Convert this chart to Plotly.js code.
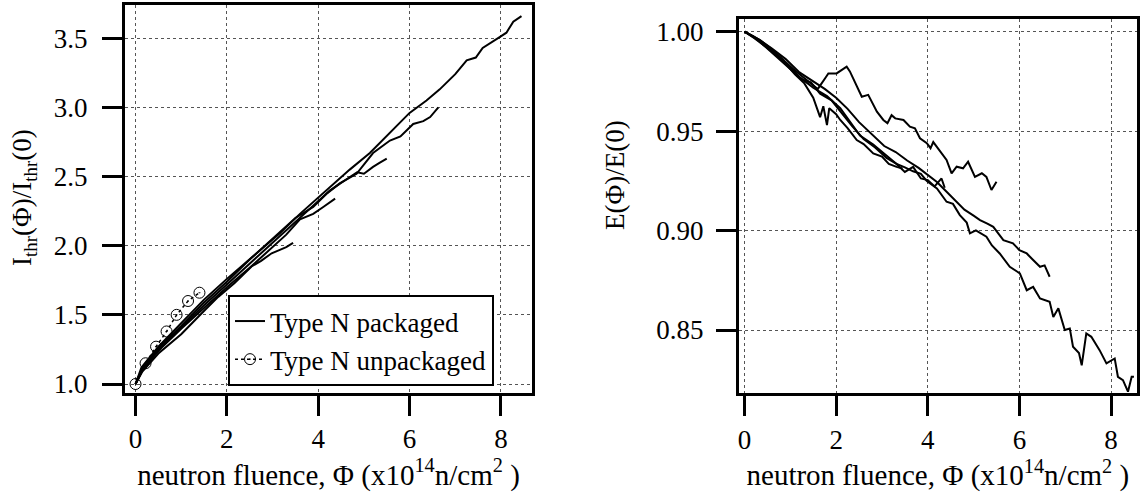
<!DOCTYPE html>
<html>
<head>
<meta charset="utf-8">
<script src="https://cdn.plot.ly/plotly-3.0.1.min.js"></script>
<style>html,body{margin:0;padding:0;background:#fff;}#chart{width:1148px;height:497px;}#status{position:absolute;left:0;top:0;width:1px;height:1px;overflow:hidden;visibility:hidden;}</style>
</head>
<body>
<div id="chart"></div>
<div id="status">start</div>
<script>
const errs = [];
window.addEventListener('error', function (e) { errs.push('ERR ' + e.message); });

// ---- tick values / labels ----
const xTicks = [0, 2, 4, 6, 8];
const xTickLabels = ['0', '2', '4', '6', '8'];
const leftYTicks = [1.0, 1.5, 2.0, 2.5, 3.0, 3.5];
const leftYTickLabels = ['1.0', '1.5', '2.0', '2.5', '3.0', '3.5'];
const rightYTicks = [0.85, 0.90, 0.95, 1.00];
const rightYTickLabels = ['0.85', '0.90', '0.95', '1.00'];

// ---- Left panel: I_thr(Φ)/I_thr(0) ----
const pkgA_x = [0, 0.13, 0.5, 1.0, 1.5, 2.0, 2.6, 3.16, 3.6, 4.11, 4.69, 5.13, 5.57, 6.0, 6.37, 6.66, 7.0, 7.25, 7.45, 7.6, 7.98, 8.12, 8.27, 8.45];
const pkgA_y = [1.0, 1.12, 1.27, 1.44, 1.61, 1.76, 1.93, 2.09, 2.23, 2.38, 2.55, 2.67, 2.82, 2.96, 3.05, 3.13, 3.24, 3.34, 3.36, 3.43, 3.51, 3.54, 3.62, 3.66];
const pkgB_x = [0, 0.15, 0.5, 1.0, 1.5, 2.0, 2.5, 3.0, 3.5, 3.89, 4.2, 4.47, 4.84, 5.2, 5.57, 5.8, 6.08, 6.3, 6.45, 6.63];
const pkgB_y = [1.0, 1.11, 1.26, 1.42, 1.59, 1.74, 1.9, 2.05, 2.2, 2.28, 2.38, 2.45, 2.52, 2.67, 2.76, 2.79, 2.88, 2.9, 2.93, 3.0];
const pkgC_x = [0, 0.15, 0.5, 1.0, 1.5, 2.0, 2.5, 3.0, 3.5, 4.03, 4.26, 4.62, 4.85, 5.0, 5.2, 5.35, 5.5];
const pkgC_y = [1.0, 1.1, 1.25, 1.41, 1.57, 1.72, 1.87, 2.02, 2.17, 2.33, 2.40, 2.48, 2.53, 2.52, 2.57, 2.6, 2.63];
const pkgD_x = [0, 0.15, 0.5, 1.0, 1.5, 2.0, 2.5, 3.0, 3.3, 3.6, 3.89, 4.11, 4.25, 4.37];
const pkgD_y = [1.0, 1.1, 1.24, 1.4, 1.55, 1.7, 1.84, 1.99, 2.08, 2.19, 2.23, 2.28, 2.31, 2.34];
const pkgE_x = [0, 0.15, 0.5, 1.0, 1.52, 1.81, 2.17, 2.54, 2.75, 2.98, 3.16, 3.3, 3.45];
const pkgE_y = [1.0, 1.09, 1.22, 1.36, 1.535, 1.63, 1.73, 1.85, 1.89, 1.945, 1.97, 1.99, 2.02];
const unpkg_x = [0, 0.22, 0.45, 0.68, 0.9, 1.15, 1.4];
const unpkg_y = [1.0, 1.15, 1.27, 1.38, 1.5, 1.6, 1.66];

// ---- Right panel: E(Φ)/E(0) ----
const eA_x = [0, 0.34, 0.63, 0.92, 1.21, 1.5, 1.8, 2.09, 2.3, 2.52, 2.81, 3.1, 3.32, 3.5, 3.68, 3.85, 3.98, 4.2, 4.41, 4.55, 4.7, 4.85, 4.92, 5.05, 5.28, 5.4, 5.57, 5.79, 6.01, 6.16, 6.3, 6.45, 6.66, 6.74, 6.85, 6.99, 7.1, 7.17, 7.3, 7.36, 7.46, 7.57, 7.75, 7.9, 8.08, 8.15, 8.26, 8.37, 8.45, 8.5];
const eA_y = [1.0, 0.9958, 0.9905, 0.9838, 0.977, 0.9718, 0.9676, 0.9615, 0.9545, 0.9478, 0.9432, 0.9376, 0.9335, 0.9318, 0.9298, 0.9285, 0.9249, 0.9212, 0.9145, 0.9134, 0.9078, 0.904, 0.8986, 0.9001, 0.8969, 0.8925, 0.8885, 0.8818, 0.8785, 0.870, 0.8717, 0.8659, 0.8642, 0.8566, 0.8609, 0.85, 0.8508, 0.8416, 0.8384, 0.8323, 0.8483, 0.8466, 0.8399, 0.8332, 0.8357, 0.8265, 0.8248, 0.819, 0.8265, 0.8265];
const eB_x = [0, 0.3, 0.6, 0.9, 1.2, 1.5, 1.75, 2.0, 2.25, 2.5, 2.8, 3.05, 3.3, 3.55, 3.8, 4.0, 4.2, 4.4, 4.6, 4.8, 5.0, 5.14, 5.3, 5.43, 5.65, 5.86, 6.0, 6.16, 6.3, 6.45, 6.55, 6.66];
const eB_y = [1.0, 0.9962, 0.9915, 0.9862, 0.9795, 0.9748, 0.9712, 0.9668, 0.9612, 0.9545, 0.9478, 0.9425, 0.9395, 0.9352, 0.9315, 0.9278, 0.9244, 0.9198, 0.9152, 0.9105, 0.9075, 0.9053, 0.9035, 0.9019, 0.8952, 0.8936, 0.8902, 0.8885, 0.8852, 0.8818, 0.8825, 0.8768];
const eC_x = [0, 0.25, 0.5, 0.8, 1.1, 1.4, 1.6, 1.76, 1.83, 2.01, 2.23, 2.3, 2.49, 2.56, 2.7, 2.78, 2.89, 3.03, 3.12, 3.21, 3.29, 3.47, 3.61, 3.72, 3.83, 3.98, 4.06, 4.12, 4.41, 4.52, 4.63, 4.77, 4.88, 5.03, 5.18, 5.28, 5.39, 5.5];
const eC_y = [1.0, 0.9965, 0.9925, 0.9868, 0.9805, 0.9752, 0.9712, 0.9766, 0.979, 0.979, 0.9824, 0.980, 0.9707, 0.9673, 0.9682, 0.9648, 0.9598, 0.9556, 0.954, 0.958, 0.9564, 0.9556, 0.9522, 0.9514, 0.9464, 0.9439, 0.9414, 0.9445, 0.9355, 0.9288, 0.9321, 0.9313, 0.9346, 0.927, 0.9288, 0.927, 0.9204, 0.9245];
const eD_x = [0, 0.2, 0.45, 0.7, 1.0, 1.25, 1.45, 1.65, 1.9, 2.1, 2.35, 2.6, 2.85, 3.1, 3.3, 3.5, 3.68, 3.85, 4.0, 4.15, 4.3, 4.37];
const eD_y = [1.0, 0.9975, 0.9925, 0.9875, 0.9815, 0.976, 0.9745, 0.9688, 0.9655, 0.9598, 0.9525, 0.946, 0.9418, 0.9365, 0.9338, 0.9295, 0.932, 0.9262, 0.9254, 0.9222, 0.9262, 0.9215];
const eE_x = [0, 0.2, 0.4, 0.65, 0.9, 1.1, 1.3, 1.5, 1.65, 1.72, 1.8, 1.85, 2.0, 2.09, 2.25, 2.45, 2.6, 2.81, 3.0, 3.15, 3.32, 3.45];
const eE_y = [1.0, 0.997, 0.9935, 0.989, 0.9838, 0.9785, 0.9742, 0.9668, 0.957, 0.9625, 0.953, 0.9615, 0.9585, 0.9556, 0.9515, 0.9455, 0.9435, 0.9388, 0.9372, 0.9335, 0.932, 0.9312];

const FONT = 'Liberation Serif';
function mkFont(size) { return {family: FONT, size: size, color: '#000000'}; }
function mkAxis(extra) {
  const a = {showline: true, mirror: true, linecolor: '#000000', linewidth: 3,
    ticks: 'outside', ticklen: 20, tickwidth: 3, tickcolor: '#000000',
    showgrid: true, gridcolor: '#555555', gridwidth: 1, griddash: 'dot',
    zeroline: false, tickfont: mkFont(27), tickmode: 'array'};
  return Object.assign(a, extra);
}
function solid(x, y, name, show, xa, ya) {
  const t = {x: x, y: y, type: 'scatter', mode: 'lines', line: {color: '#000', width: 2}, showlegend: show};
  if (name) t.name = name;
  if (xa) { t.xaxis = xa; t.yaxis = ya; }
  return t;
}
const traces = [
  solid(pkgA_x, pkgA_y, 'Type N packaged', true),
  {x: unpkg_x, y: unpkg_y, type: 'scatter', mode: 'lines+markers', name: 'Type N unpackaged', line: {color: '#000', width: 1.5, dash: 'dot'},
   marker: {symbol: 'circle-open-dot', size: 11, color: '#000'}},
  solid(pkgB_x, pkgB_y, null, false),
  solid(pkgC_x, pkgC_y, null, false),
  solid(pkgD_x, pkgD_y, null, false),
  solid(pkgE_x, pkgE_y, null, false),
  solid(eA_x, eA_y, null, false, 'x2', 'y2'),
  solid(eB_x, eB_y, null, false, 'x2', 'y2'),
  solid(eC_x, eC_y, null, false, 'x2', 'y2'),
  solid(eD_x, eD_y, null, false, 'x2', 'y2'),
  solid(eE_x, eE_y, null, false, 'x2', 'y2')
];
const xTitleText = 'neutron fluence, Φ (x10<sup>14</sup>n/cm<sup>2</sup> )';
const layout = {
  width: 1148, height: 497, margin: {l: 0, r: 0, t: 0, b: 0}, font: mkFont(27),
  legend: {x: 228/1148, y: 1 - 295/497, xanchor: 'left', yanchor: 'top', bgcolor: '#ffffff', bordercolor: '#000', borderwidth: 2, font: mkFont(27)},
  xaxis: mkAxis({domain: [125/1148, 532/1148], range: [-0.23, 8.68], tickvals: xTicks, ticktext: xTickLabels, anchor: 'y',
    title: {text: xTitleText, font: mkFont(29), standoff: 4}}),
  yaxis: mkAxis({domain: [1 - 393/497, 1 - 5/497], range: [0.935, 3.74], tickvals: leftYTicks, ticktext: leftYTickLabels, anchor: 'x', ticklabelstandoff: 9}),
  xaxis2: mkAxis({domain: [739/1148, 1136.7/1148], range: [-0.12, 8.56], tickvals: xTicks, ticktext: xTickLabels, anchor: 'y2',
    title: {text: xTitleText, font: mkFont(29), standoff: 4}}),
  yaxis2: mkAxis({domain: [1 - 393.3/497, 1 - 19.3/497], range: [0.8182, 1.0062], tickvals: rightYTicks, ticktext: rightYTickLabels, anchor: 'x2', ticklabelstandoff: 7}),
  annotations: [
    {text: 'I<sub>thr</sub>(Φ)/I<sub>thr</sub>(0)', xref: 'paper', yref: 'paper', x: 24/1148, y: 1 - 198/497, textangle: -90, showarrow: false,
     xanchor: 'center', yanchor: 'middle', font: mkFont(27)},
    {text: 'E(Φ)/E(0)', xref: 'paper', yref: 'paper', x: 615/1148, y: 1 - 175/497, textangle: -90, showarrow: false,
     xanchor: 'center', yanchor: 'middle', font: mkFont(27)}
  ]
};
try {
  Plotly.newPlot('chart', traces, layout, {staticPlot: true}).then(function (gd) {
    document.getElementById('status').textContent = 'done ' + errs.length;
  }).catch(function (e) { document.getElementById('status').textContent = 'REJECT ' + e; });
} catch (e) { document.getElementById('status').textContent = 'THROW ' + e; }
</script>
</body>
</html>
